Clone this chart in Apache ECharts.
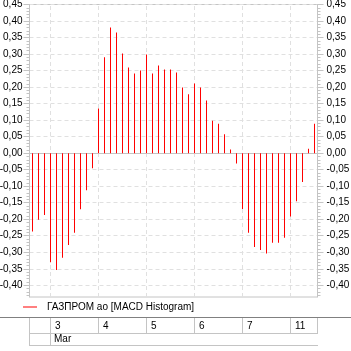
<!DOCTYPE html>
<html>
<head>
<meta charset="utf-8">
<script src="https://cdn.jsdelivr.net/npm/echarts@6/dist/echarts.min.js"></script>
<style>
html,body{margin:0;padding:0;background:#fff;}
#c{width:351px;height:351px;}
</style>
</head>
<body>
<div id="c"></div>
<script>
// ---- data ----
const categories = [
  '28 15','28 16','28 17',
  '3 10','3 11','3 12','3 13','3 14','3 15','3 16','3 17',
  '4 10','4 11','4 12','4 13','4 14','4 15','4 16','4 17',
  '5 10','5 11','5 12','5 13','5 14','5 15','5 16','5 17',
  '6 10','6 11','6 12','6 13','6 14','6 15','6 16','6 17',
  '7 10','7 11','7 12','7 13','7 14','7 15','7 16','7 17',
  '11 10','11 11','11 12','11 13','11 14'
];
const macdHist = [
  -0.237,-0.202,-0.187,
  -0.330,-0.354,-0.317,-0.278,-0.241,-0.170,-0.112,-0.046,
  0.135,0.290,0.380,0.365,0.302,0.259,0.241,0.250,
  0.299,0.241,0.265,0.253,0.253,0.244,0.199,0.178,
  0.211,0.199,0.159,0.098,0.089,0.057,0.011,-0.031,
  -0.169,-0.241,-0.284,-0.293,-0.304,-0.271,-0.271,-0.256,
  -0.192,-0.146,-0.087,0.013,0.089
];
const yTicks = [-0.40,-0.35,-0.30,-0.25,-0.20,-0.15,-0.10,-0.05,0.00,0.05,0.10,0.15,0.20,0.25,0.30,0.35,0.40,0.45];
const dayStartCats = ['3 10','4 10','5 10','6 10','7 10','11 10'];
const dayLabels = ['3','4','5','6','7','11'];
const monthLabel = 'Mar';
const seriesName = 'ГАЗПРОМ ао [MACD Histogram]';
const yMin = -0.4355, yMax = 0.45;

// minor tick positions (every 0.01 inside the range)
const minorTicks = [];
for (let k = Math.ceil(yMin*100); k <= Math.round(yMax*100); k++) minorTicks.push(k/100);

// ---- chart ----
const chart = echarts.init(document.getElementById('c'), null, {renderer:'canvas'});
const axisColor = '#c4c4c4';
const font = 'Liberation Sans, Arial, sans-serif';
function fmt(v){ return (+v).toFixed(2).replace('.', ','); }
function yMain(pos){
  return {
    type:'value', position:pos, min:yMin, max:yMax,
    axisLine:{show:true, lineStyle:{color:axisColor, width:1}},
    axisTick:{show:true, length:6, customValues:yTicks, lineStyle:{color:axisColor}},
    axisLabel:{formatter:fmt, customValues:yTicks, fontSize:10, color:'#000', fontFamily:font,
               margin:pos==='left'?7:9},
    splitLine:{show:pos==='left', lineStyle:{type:[4,3], color:'#e0e0e0', width:1}}
  };
}
function yMinor(pos){
  return {
    type:'value', position:pos, min:yMin, max:yMax,
    axisLine:{show:false},
    axisTick:{show:true, length:3, customValues:minorTicks, lineStyle:{color:axisColor}},
    axisLabel:{show:false},
    splitLine:{show:false}
  };
}
chart.setOption({
  animation:false,
  grid:{left:29.5, width:288, top:4.5, height:292.5, show:true, borderColor:axisColor, borderWidth:1,
        containLabel:false, outerBoundsMode:'none'},
  xAxis:{
    type:'category', data:categories, boundaryGap:true,
    axisLine:{show:true, lineStyle:{color:axisColor}},
    axisTick:{show:false}, axisLabel:{show:false}, splitLine:{show:false}
  },
  yAxis:[yMain('left'), yMain('right'), yMinor('left'), yMinor('right')],
  legend:{
    data:[seriesName], left:23, top:302, padding:0, icon:'rect', itemWidth:14, itemHeight:1,
    textStyle:{fontSize:10, color:'#000', fontFamily:font, padding:[0,0,0,5]}
  },
  series:[{
    type:'bar', name:seriesName, data:macdHist, barWidth:1, z:2, yAxisIndex:0,
    itemStyle:{color:'#ff0000'},
    markLine:{
      silent:true, z:1, symbol:['none','none'], label:{show:false},
      lineStyle:{type:[4,3], color:'#e0e0e0', width:1},
      data:dayStartCats.map(c=>({xAxis:c}))
    }
  }]
});

// ---- date table under the chart ----
const xs = dayStartCats.map(c=>Math.floor(chart.convertToPixel({xAxisIndex:0}, c)));
const gl = 29, gr = 317;
const tTop = 317.5, tMid = 333.5, tBot = 345.5;
const g = [];
const ls = {stroke:'#c4c4c4', lineWidth:1};
g.push({type:'line', shape:{x1:0,y1:tTop,x2:351,y2:tTop}, style:{stroke:'#808080', lineWidth:1}, z:10});
g.push({type:'line', shape:{x1:gl,y1:tMid,x2:gr+1,y2:tMid}, style:ls});
g.push({type:'line', shape:{x1:gl,y1:tBot,x2:gr+1,y2:tBot}, style:ls});
g.push({type:'line', shape:{x1:gl+0.5,y1:tTop,x2:gl+0.5,y2:tBot}, style:ls});
g.push({type:'line', shape:{x1:xs[0]+0.5,y1:tTop,x2:xs[0]+0.5,y2:tBot}, style:ls});
for(let i=1;i<xs.length;i++){
  g.push({type:'line', shape:{x1:xs[i]+0.5,y1:tTop,x2:xs[i]+0.5,y2:tMid}, style:ls});
}
g.push({type:'line', shape:{x1:gr+0.5,y1:tTop,x2:gr+0.5,y2:tMid}, style:ls});
dayLabels.forEach((t,i)=>{
  g.push({type:'text', x:xs[i]+5, y:326, style:{text:t, fontSize:10, fontFamily:font, fill:'#000', verticalAlign:'middle'}});
});
g.push({type:'text', x:xs[0]+4, y:339, style:{text:monthLabel, fontSize:10, fontFamily:font, fill:'#000', verticalAlign:'middle'}});
chart.setOption({graphic:g});
</script>
</body>
</html>
